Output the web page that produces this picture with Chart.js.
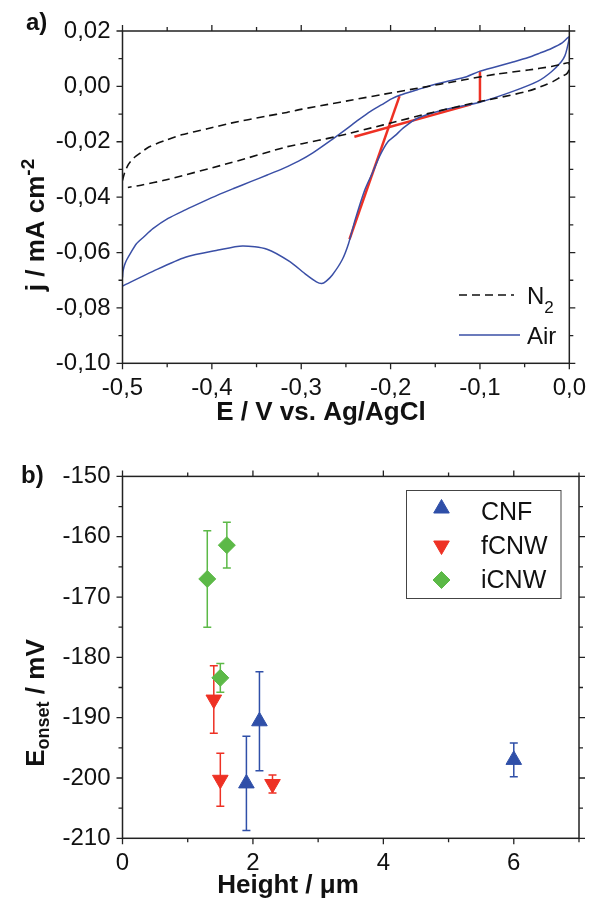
<!DOCTYPE html>
<html>
<head>
<meta charset="utf-8">
<script src="https://cdn.jsdelivr.net/npm/chart.js@4.4.0/dist/chart.umd.min.js"></script>
<style>
  html, body { margin: 0; padding: 0; background: #fff; }
  #wrap { position: relative; width: 597px; height: 905px; }
  canvas { position: absolute; left: 0; }
  #cv { top: 0; }
  #onset { top: 450px; }
</style>
</head>
<body>
<div id="wrap">
  <canvas id="cv" width="597" height="450"></canvas>
  <canvas id="onset" width="597" height="455"></canvas>
</div>
<script>
// --- a) cyclic voltammograms, E in V vs Ag/AgCl, j in mA cm-2 (loop order) ---
const n2E = [-0.500, -0.4975, -0.493, -0.488, -0.479, -0.470, -0.452, -0.434, -0.405, -0.379, -0.340, -0.316, -0.299,
  -0.270, -0.243, -0.207, -0.170, -0.119, -0.082, -0.046, -0.020, -0.009, 0.000,
  0.000, -0.003, -0.009, -0.018, -0.027, -0.046, -0.082, -0.100, -0.153, -0.208, -0.262, -0.299, -0.316, -0.379,
  -0.452, -0.478, -0.494];
const n2J = [-0.0340, -0.0310, -0.0280, -0.0260, -0.0238, -0.0218, -0.0195, -0.0175, -0.0153, -0.0133, -0.0108, -0.0094, -0.0082,
  -0.0065, -0.0049, -0.0028, -0.0007, 0.0023, 0.0044, 0.0059, 0.0072, 0.0080, 0.0085,
  0.0062, 0.0045, 0.0035, 0.0018, 0.0005, -0.0017, -0.0043, -0.0055, -0.0094, -0.0139, -0.0182, -0.0207, -0.0218, -0.0276,
  -0.0338, -0.0356, -0.0365];

const airE = [-0.500, -0.4995, -0.4985, -0.497, -0.4954, -0.491, -0.4844, -0.476, -0.466, -0.449, -0.4296, -0.411, -0.393,
  -0.375, -0.3566, -0.338, -0.320, -0.303, -0.287, -0.2652, -0.250, -0.236, -0.2225, -0.2104, -0.199, -0.189, -0.170,
  -0.153, -0.134, -0.115, -0.100, -0.082, -0.064, -0.046, -0.033, -0.020, -0.008, 0.000,
  -0.0025, -0.005, -0.009, -0.020, -0.035, -0.064, -0.100, -0.141, -0.170, -0.185, -0.195, -0.203, -0.212, -0.220,
  -0.229, -0.2397, -0.247, -0.2543, -0.2652, -0.272, -0.277, -0.283, -0.2945, -0.3127, -0.3383, -0.3657, -0.393,
  -0.4296, -0.466, -0.500];
const airJ = [-0.0690, -0.0669, -0.0654, -0.0639, -0.0627, -0.0602, -0.0568, -0.0543, -0.0514, -0.0477, -0.0446, -0.0418, -0.0392,
  -0.0368, -0.0344, -0.0320, -0.0296, -0.0270, -0.0240, -0.0191, -0.0155, -0.0121, -0.0090, -0.0067, -0.0045, -0.0031, -0.0012,
  0.0005, 0.0020, 0.0035, 0.0055, 0.0071, 0.0087, 0.0104, 0.0120, 0.0137, 0.0157, 0.0179,
  0.0137, 0.0110, 0.0089, 0.0053, 0.0019, -0.0019, -0.0057, -0.0085, -0.0115, -0.0148, -0.0178, -0.0200, -0.0250, -0.0310,
  -0.0375, -0.0482, -0.0567, -0.0627, -0.0681, -0.0703, -0.0712, -0.0706, -0.0680, -0.0633, -0.0588, -0.0576, -0.0591,
  -0.0617, -0.0668, -0.0721];

// onset construction: tangent, baseline and marker at -0.1 V
const tangentE = [-0.246, -0.190];
const tangentJ = [-0.0552, -0.0035];
const baseE = [-0.2405, -0.110];
const baseJ = [-0.0182, -0.0065];
const markE = [-0.100, -0.100];
const markJ = [0.0055, -0.0057];

const cvXTicks = [-0.5, -0.4, -0.3, -0.2, -0.1, 0.0];
const cvXMinor = [-0.45, -0.35, -0.25, -0.15, -0.05];
const cvYTicks = [-0.10, -0.08, -0.06, -0.04, -0.02, 0.00, 0.02];
const cvYMinor = [-0.09, -0.07, -0.05, -0.03, -0.01, 0.01];

// --- b) onset potential vs height ---
const cnfHeight = [1.9, 2.1, 6.0];
const cnfOnset = [-200.9, -190.6, -197.0];
const cnfErr = [7.8, 8.2, 2.8];

const fcnwHeight = [1.4, 1.5, 2.3];
const fcnwOnset = [-187.0, -200.3, -201.0];
const fcnwErr = [5.6, 4.4, 1.5];

const icnwHeight = [1.3, 1.6, 1.5];
const icnwOnset = [-167.0, -161.4, -183.4];
const icnwErr = [8.0, 3.8, 2.4];

const htXTicks = [0, 2, 4, 6];
const htXMinor = [1, 3, 5, 7];
const onsetYTicks = [-210, -200, -190, -180, -170, -160, -150];
const onsetYMinor = [-205, -195, -185, -175, -165, -155];

const BLUE = '#2f4fa8';
const LINE_BLUE = '#3a4fa6';
const RED = '#ee3124';
const GREEN = '#5cb947';
const INK = '#111';
const FONT = '"Liberation Sans", Arial, sans-serif';

function pts(xs, ys) {
  return xs.map((x, i) => ({ x: x, y: ys[i] }));
}

// frame around the plot with outward ticks on all four sides
const framePlugin = {
  id: 'frame',
  afterDraw(chart, args, opts) {
    const { ctx, chartArea: a } = chart;
    const xs = chart.scales.x, ys = chart.scales.y;
    ctx.save();
    ctx.strokeStyle = '#222';
    ctx.lineWidth = 1.5;
    ctx.strokeRect(a.left, a.top, a.right - a.left, a.bottom - a.top);
    ctx.lineWidth = 1.3;
    ctx.beginPath();
    const xt = (v, len) => {
      const p = xs.getPixelForValue(v);
      ctx.moveTo(p, a.bottom); ctx.lineTo(p, a.bottom + len);
      ctx.moveTo(p, a.top); ctx.lineTo(p, a.top - len);
    };
    const yt = (v, len) => {
      const p = ys.getPixelForValue(v);
      ctx.moveTo(a.left, p); ctx.lineTo(a.left - len, p);
      ctx.moveTo(a.right, p); ctx.lineTo(a.right + len, p);
    };
    opts.xMajor.forEach(v => xt(v, 6));
    opts.xMinor.forEach(v => xt(v, 4));
    opts.yMajor.forEach(v => yt(v, 6));
    opts.yMinor.forEach(v => yt(v, 4));
    ctx.stroke();
    ctx.restore();
  }
};

// text made of runs with different fonts / baseline shifts
function drawRuns(ctx, runs, x, y, rotated, align) {
  ctx.save();
  ctx.translate(x, y);
  if (rotated) ctx.rotate(-Math.PI / 2);
  ctx.fillStyle = INK;
  ctx.textBaseline = 'alphabetic';
  ctx.textAlign = 'left';
  let total = 0;
  runs.forEach(r => { ctx.font = r.font; r.w = ctx.measureText(r.text).width; total += r.w; });
  let cx = align === 'center' ? -total / 2 : 0;
  runs.forEach(r => { ctx.font = r.font; ctx.fillText(r.text, cx, r.shift || 0); cx += r.w; });
  ctx.restore();
}

function tickFont() {
  return { family: FONT, size: 24 };
}

// ---------- a) ----------
const cvDecor = {
  id: 'cvDecor',
  afterDraw(chart) {
    const ctx = chart.ctx;
    drawRuns(ctx, [{ text: 'a)', font: 'bold 24px ' + FONT }], 26, 30, false, 'left');
    drawRuns(ctx, [{ text: 'E / V vs. Ag/AgCl', font: 'bold 26px ' + FONT }], 321, 420, false, 'center');
    drawRuns(ctx, [
      { text: 'j / mA cm', font: 'bold 26px ' + FONT },
      { text: '-2', font: 'bold 19px ' + FONT, shift: -10 }
    ], 44, 225, true, 'center');

    // legend
    ctx.save();
    ctx.lineWidth = 1.6;
    ctx.strokeStyle = '#111';
    ctx.setLineDash([8, 5]);
    ctx.beginPath(); ctx.moveTo(459, 295); ctx.lineTo(514, 295); ctx.stroke();
    ctx.setLineDash([]);
    ctx.strokeStyle = LINE_BLUE;
    ctx.lineWidth = 1.5;
    ctx.beginPath(); ctx.moveTo(459, 335); ctx.lineTo(520, 335); ctx.stroke();
    ctx.restore();
    drawRuns(ctx, [
      { text: 'N', font: '24px ' + FONT },
      { text: '2', font: '17px ' + FONT, shift: 9 }
    ], 527, 304, false, 'left');
    drawRuns(ctx, [{ text: 'Air', font: '24px ' + FONT }], 527, 344, false, 'left');
  }
};

new Chart(document.getElementById('cv'), {
  type: 'scatter',
  data: {
    datasets: [
      { label: 'N2', data: pts(n2E, n2J), showLine: true, borderColor: '#111', borderWidth: 1.6,
        borderDash: [8, 5], pointRadius: 0, tension: 0.25 },
      { label: 'Air', data: pts(airE, airJ), showLine: true, borderColor: LINE_BLUE, borderWidth: 1.5,
        pointRadius: 0, tension: 0.25 },
      { label: 'tangent', data: pts(tangentE, tangentJ), showLine: true, borderColor: RED, borderWidth: 2.5, pointRadius: 0 },
      { label: 'baseline', data: pts(baseE, baseJ), showLine: true, borderColor: RED, borderWidth: 2.5, pointRadius: 0 },
      { label: 'onset', data: pts(markE, markJ), showLine: true, borderColor: RED, borderWidth: 2.5, pointRadius: 0 }
    ]
  },
  options: {
    responsive: false,
    animation: false,
    layout: { padding: { top: 31, right: 18, left: 0, bottom: 0 } },
    plugins: {
      legend: { display: false },
      tooltip: { enabled: false },
      frame: { xMajor: cvXTicks, xMinor: cvXMinor, yMajor: cvYTicks, yMinor: cvYMinor }
    },
    scales: {
      x: {
        type: 'linear', min: -0.5, max: 0,
        afterBuildTicks: s => { s.ticks = cvXTicks.map(v => ({ value: v })); },
        afterFit: s => { s.height = 450 - 363.3; },
        grid: { display: false, drawTicks: false },
        border: { display: false },
        ticks: { font: tickFont(), color: INK, padding: 11, maxRotation: 0, autoSkip: false,
          callback: v => v.toFixed(1).replace('.', ',') }
      },
      y: {
        type: 'linear', min: -0.10, max: 0.02,
        afterBuildTicks: s => { s.ticks = cvYTicks.map(v => ({ value: v })); },
        afterFit: s => { s.width = 122.5; },
        grid: { display: false, drawTicks: false },
        border: { display: false },
        ticks: { font: tickFont(), color: INK, padding: 12, autoSkip: false,
          callback: v => v.toFixed(2).replace('.', ',') }
      }
    }
  },
  plugins: [framePlugin, cvDecor]
});

// ---------- b) ----------
function markerPath(ctx, style, x, y, r, rot) {
  ctx.beginPath();
  if (style === 'rectRot') {
    ctx.moveTo(x - r, y); ctx.lineTo(x, y - r); ctx.lineTo(x + r, y); ctx.lineTo(x, y + r);
  } else {
    let rad = rot * Math.PI / 180;
    for (let k = 0; k < 3; k++) {
      const px = x + Math.sin(rad) * r, py = y - Math.cos(rad) * r;
      if (k === 0) ctx.moveTo(px, py); else ctx.lineTo(px, py);
      rad += 2 * Math.PI / 3;
    }
  }
  ctx.closePath();
}

const errorBars = {
  id: 'errorBars',
  beforeDatasetsDraw(chart) {
    const { ctx } = chart;
    const xs = chart.scales.x, ys = chart.scales.y;
    ctx.save();
    chart.data.datasets.forEach(ds => {
      ctx.strokeStyle = ds.borderColor;
      ctx.lineWidth = 1.5;
      ctx.beginPath();
      ds.data.forEach((p, i) => {
        const e = ds.errors[i];
        const px = xs.getPixelForValue(p.x);
        const top = ys.getPixelForValue(p.y + e), bot = ys.getPixelForValue(p.y - e);
        ctx.moveTo(px, top); ctx.lineTo(px, bot);
        ctx.moveTo(px - 4, top); ctx.lineTo(px + 4, top);
        ctx.moveTo(px - 4, bot); ctx.lineTo(px + 4, bot);
      });
      ctx.stroke();
    });
    ctx.restore();
  }
};

const onsetDecor = {
  id: 'onsetDecor',
  afterDraw(chart) {
    const ctx = chart.ctx;
    drawRuns(ctx, [{ text: 'b)', font: 'bold 24px ' + FONT }], 21, 33, false, 'left');
    drawRuns(ctx, [{ text: 'Height / \u03bcm', font: 'bold 26px ' + FONT }], 288, 443, false, 'center');
    drawRuns(ctx, [
      { text: 'E', font: 'bold 26px ' + FONT },
      { text: 'onset', font: 'bold 18px ' + FONT, shift: 5 },
      { text: ' / mV', font: 'bold 26px ' + FONT }
    ], 44, 253, true, 'center');

    // boxed legend
    ctx.save();
    ctx.strokeStyle = '#444';
    ctx.lineWidth = 1;
    ctx.strokeRect(406.5, 40.5, 154.5, 108);
    const rows = [58.5, 95.5, 130];
    const bases = [69.5, 103.5, 138];
    chart.data.datasets.forEach((ds, i) => {
      ctx.fillStyle = ds.backgroundColor;
      ctx.strokeStyle = ds.borderColor;
      ctx.lineWidth = 1;
      markerPath(ctx, ds.pointStyle, 441.5, rows[i], ds.pointRadius, ds.pointRotation || 0);
      ctx.fill(); ctx.stroke();
    });
    ctx.restore();
    chart.data.datasets.forEach((ds, i) => {
      drawRuns(ctx, [{ text: ds.label, font: '25px ' + FONT }], 481, bases[i], false, 'left');
    });
  }
};

new Chart(document.getElementById('onset'), {
  type: 'scatter',
  data: {
    datasets: [
      { label: 'CNF', data: pts(cnfHeight, cnfOnset), errors: cnfErr, pointStyle: 'triangle', pointRadius: 9,
        backgroundColor: BLUE, borderColor: BLUE, borderWidth: 1 },
      { label: 'fCNW', data: pts(fcnwHeight, fcnwOnset), errors: fcnwErr, pointStyle: 'triangle', pointRotation: 180,
        pointRadius: 9, backgroundColor: RED, borderColor: RED, borderWidth: 1 },
      { label: 'iCNW', data: pts(icnwHeight, icnwOnset), errors: icnwErr, pointStyle: 'rectRot', pointRadius: 8.5,
        backgroundColor: GREEN, borderColor: GREEN, borderWidth: 1 }
    ]
  },
  options: {
    responsive: false,
    animation: false,
    layout: { padding: { top: 25, right: 18, left: 0, bottom: 0 } },
    plugins: {
      legend: { display: false },
      tooltip: { enabled: false },
      frame: { xMajor: htXTicks, xMinor: htXMinor, yMajor: onsetYTicks, yMinor: onsetYMinor }
    },
    scales: {
      x: {
        type: 'linear', min: 0, max: 7,
        afterBuildTicks: s => { s.ticks = htXTicks.map(v => ({ value: v })); },
        afterFit: s => { s.height = 455 - 388.3; },
        grid: { display: false, drawTicks: false },
        border: { display: false },
        ticks: { font: tickFont(), color: INK, padding: 11, maxRotation: 0, autoSkip: false,
          callback: v => String(v) }
      },
      y: {
        type: 'linear', min: -210, max: -150,
        afterBuildTicks: s => { s.ticks = onsetYTicks.map(v => ({ value: v })); },
        afterFit: s => { s.width = 122.5; },
        grid: { display: false, drawTicks: false },
        border: { display: false },
        ticks: { font: tickFont(), color: INK, padding: 12, autoSkip: false,
          callback: v => String(v) }
      }
    }
  },
  plugins: [framePlugin, errorBars, onsetDecor]
});
</script>
</body>
</html>
